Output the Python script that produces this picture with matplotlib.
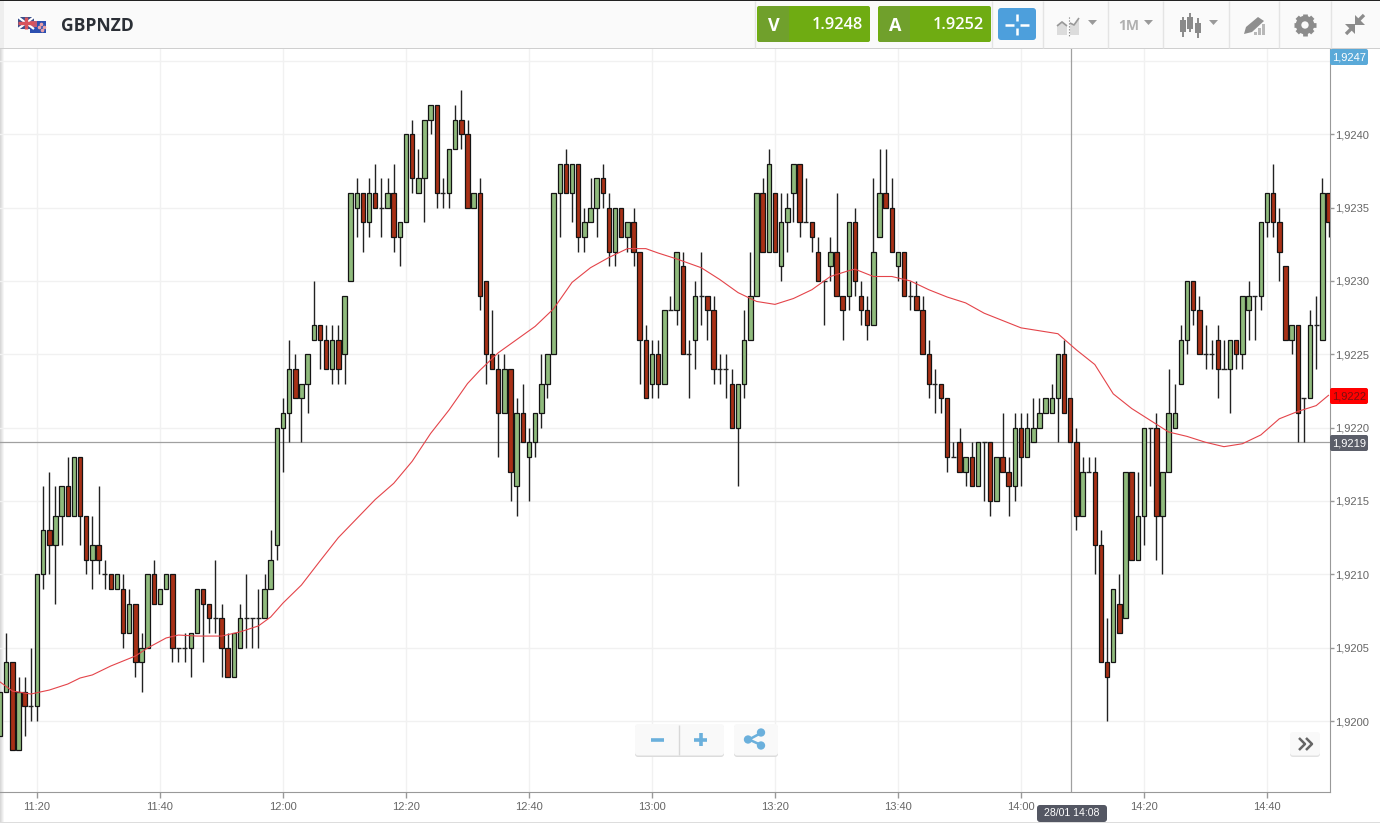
import numpy as np
import matplotlib
matplotlib.use("Agg")
import matplotlib.pyplot as plt
from matplotlib.patches import Rectangle, FancyBboxPatch, Polygon, Circle
from matplotlib.ticker import FuncFormatter

# One candle per minute, 11:14 to 14:50, prices in pips above 1.9200
open_pips = [
    -1, 2, 4, -2, 2, 1, 1, 10, 13, 12,
    14, 16, 14, 18, 14, 11, 12, 10, 10, 9,
    9, 6, 8, 4, 5, 10, 8, 9, 10, 5,
    5, 5, 6, 9, 8, 7, 7, 5, 3, 5,
    7, 7, 7, 7, 9, 12, 20, 21, 24, 22,
    23, 26, 27, 26, 24, 26, 25, 30, 35, 36,
    34, 36, 35, 35, 36, 33, 34, 40, 36, 37,
    41, 42, 36, 36, 39, 41, 40, 35, 36, 30,
    25, 24, 21, 24, 16, 21, 18, 19, 21, 23,
    25, 36, 38, 36, 38, 33, 34, 35, 37, 35,
    32, 35, 33, 34, 32, 26, 23, 25, 23, 28,
    28, 31, 25, 26, 29, 29, 28, 24, 24, 23,
    20, 23, 26, 29, 36, 32, 36, 31, 34, 36,
    38, 34, 34, 32, 30, 31, 32, 29, 29, 34,
    29, 28, 27, 33, 36, 35, 31, 32, 29, 29,
    28, 25, 23, 23, 22, 18, 19, 17, 18, 16,
    19, 19, 15, 18, 17, 16, 20, 18, 19, 20,
    21, 21, 22, 25, 22, 19, 14, 17, 17, 12,
    4, 4, 8, 7, 17, 11, 14, 20, 20, 14,
    17, 20, 23, 26, 30, 28, 25, 25, 26, 24,
    24, 26, 25, 28, 29, 29, 34, 36, 34, 31,
    26, 27, 22, 22, 27, 26, 36,
]
high_pips = [
    2, 6, 4, 3, 3, 5, 10, 16, 17, 16,
    16, 18, 18, 18, 14, 14, 16, 11, 10, 10,
    10, 9, 8, 6, 10, 11, 9, 10, 10, 5,
    6, 6, 9, 9, 8, 11, 8, 6, 6, 8,
    10, 7, 9, 10, 13, 20, 22, 26, 25, 23,
    25, 30, 27, 27, 27, 27, 29, 36, 37, 36,
    37, 38, 37, 37, 38, 34, 40, 41, 39, 41,
    42, 42, 37, 39, 42, 43, 41, 36, 37, 30,
    28, 25, 25, 24, 22, 23, 20, 21, 25, 25,
    36, 38, 39, 38, 38, 35, 37, 37, 38, 36,
    35, 35, 34, 35, 32, 27, 26, 26, 28, 29,
    32, 32, 26, 30, 32, 29, 29, 25, 25, 24,
    23, 28, 32, 36, 37, 39, 36, 36, 36, 38,
    38, 37, 34, 33, 30, 33, 36, 29, 34, 35,
    30, 29, 37, 39, 39, 37, 32, 32, 30, 30,
    29, 26, 24, 23, 22, 19, 20, 18, 19, 19,
    19, 19, 18, 21, 18, 21, 21, 21, 22, 22,
    22, 23, 25, 26, 22, 20, 18, 18, 18, 13,
    7, 9, 10, 17, 17, 17, 20, 20, 21, 17,
    24, 23, 27, 30, 30, 29, 27, 26, 27, 26,
    26, 26, 29, 30, 29, 34, 36, 38, 35, 31,
    27, 27, 22, 28, 29, 37, 36,
]
low_pips = [
    -1, 2, -2, -2, -1, 0, 0, 9, 10, 8,
    12, 14, 14, 12, 10, 9, 10, 9, 9, 9,
    5, 6, 3, 2, 5, 8, 8, 9, 4, 4,
    4, 3, 6, 4, 6, 6, 3, 3, 3, 5,
    5, 5, 5, 7, 9, 11, 17, 19, 22, 19,
    21, 26, 24, 24, 23, 23, 23, 30, 33, 32,
    33, 35, 33, 35, 32, 31, 34, 36, 36, 34,
    40, 35, 35, 35, 39, 39, 35, 35, 28, 23,
    24, 18, 21, 15, 14, 19, 15, 18, 20, 22,
    25, 33, 36, 34, 32, 32, 34, 33, 35, 31,
    31, 33, 32, 31, 23, 22, 22, 22, 23, 28,
    27, 25, 22, 24, 27, 26, 23, 23, 22, 20,
    16, 22, 26, 29, 32, 32, 32, 30, 32, 34,
    33, 34, 32, 30, 27, 30, 29, 26, 28, 29,
    27, 26, 27, 33, 35, 32, 30, 29, 28, 28,
    25, 22, 21, 21, 17, 18, 17, 16, 16, 16,
    15, 14, 15, 17, 14, 15, 16, 18, 19, 20,
    21, 21, 19, 21, 19, 13, 14, 17, 10, 4,
    0, 4, 6, 7, 11, 11, 12, 16, 11, 10,
    17, 20, 23, 25, 27, 25, 24, 24, 22, 24,
    21, 24, 24, 26, 26, 28, 33, 33, 30, 26,
    25, 19, 19, 22, 24, 26, 33,
]
close_pips = [
    2, 4, -2, 2, 1, 1, 10, 13, 12, 14,
    16, 14, 18, 14, 11, 12, 11, 10, 9, 10,
    6, 8, 4, 5, 10, 8, 9, 10, 5, 5,
    5, 6, 9, 8, 7, 7, 5, 3, 6, 7,
    7, 7, 7, 9, 11, 20, 21, 24, 22, 23,
    25, 27, 26, 24, 26, 24, 29, 36, 36, 34,
    36, 35, 35, 36, 33, 34, 40, 37, 37, 41,
    42, 36, 36, 39, 41, 40, 35, 36, 29, 25,
    24, 21, 24, 17, 21, 19, 19, 21, 23, 25,
    36, 38, 36, 38, 33, 34, 35, 37, 36, 32,
    35, 33, 34, 32, 26, 22, 25, 23, 28, 28,
    32, 25, 25, 29, 29, 28, 24, 24, 24, 20,
    23, 26, 29, 36, 32, 38, 32, 34, 35, 38,
    34, 34, 33, 30, 30, 32, 29, 28, 34, 30,
    28, 27, 32, 36, 35, 32, 32, 29, 29, 28,
    25, 23, 23, 22, 18, 18, 17, 18, 16, 19,
    19, 15, 18, 17, 16, 20, 18, 20, 20, 21,
    22, 22, 25, 21, 19, 14, 17, 17, 12, 4,
    3, 9, 6, 17, 11, 14, 20, 20, 14, 17,
    21, 21, 26, 30, 28, 25, 25, 25, 24, 24,
    26, 25, 29, 29, 29, 34, 36, 34, 32, 26,
    27, 21, 22, 27, 27, 36, 34,
]

# Moving average, read at selected minutes of the day
ma_minutes = [674, 676, 679, 682, 685, 687, 689, 692, 694, 696, 698, 701, 703, 706, 710, 713,
              716, 718, 720, 723, 726, 729, 732, 735, 738, 741, 744, 747, 750, 752, 755, 758,
              761, 764, 767, 770, 773, 776, 779, 781, 784, 788, 791, 794, 797, 800, 803, 806,
              809, 812, 813, 816, 819, 822, 825, 828, 831, 834, 837, 840, 843, 846, 849, 852,
              855, 858, 861, 864, 867, 870, 873, 876, 879, 882, 885, 888, 890]
ma_pips = [2.66, 2.04, 1.84, 2.11, 2.52, 2.93, 3.14, 3.75, 4.09, 4.43, 4.98, 5.66, 5.86, 5.79, 5.79, 6.07,
           6.48, 7.09, 8.04, 9.27, 10.9, 12.5, 13.8, 15.1, 16.2, 17.7, 19.6, 21.2, 23.0, 23.9, 25.1, 26.0,
           26.9, 28.1, 29.9, 30.9, 31.6, 32.2, 32.2, 31.9, 31.5, 30.9, 30.1, 29.2, 28.6, 28.4, 28.8, 29.4,
           30.3, 30.7, 30.8, 30.3, 30.3, 30.0, 29.4, 28.9, 28.5, 27.8, 27.3, 26.8, 26.6, 26.4, 25.3, 24.3,
           22.3, 21.3, 20.5, 19.7, 19.4, 19.0, 18.7, 18.9, 19.5, 20.6, 21.1, 21.5, 22.2]

time_ticks = [680, 700, 720, 740, 760, 780, 800, 820, 840, 860, 880]
price_ticks = [1.9200, 1.9205, 1.9210, 1.9215, 1.9220, 1.9225, 1.9230, 1.9235, 1.9240]
bid_price = "1.9248"
ask_price = "1.9252"
cross_price = 1.9219
cross_time = 848.1
last_price = 1.9222
top_price = 1.9247

UP = "#90bb7d"
DOWN = "#a83016"
FONT = "Liberation Sans"
UI_FONT = "Open Sans"


def to_price(pips):
    return 1.92 + np.array(pips, dtype=float) / 10000


fig = plt.figure(figsize=(13.8, 8.23), dpi=100, facecolor="white")

# left page shadow sits behind the chart
back = fig.add_axes([0, 0, 1, 1], zorder=-1)
back.set_xlim(0, 1380)
back.set_ylim(823, 0)
back.axis("off")
for x, col in zip(range(4), ("#d8d8d8", "#e2e2e2", "#ececec", "#f6f6f6")):
    back.add_patch(Rectangle((x, 0), 1, 823, facecolor=col, edgecolor="none"))

ax = fig.add_axes([0, 1 - 792 / 823, 1330 / 1380, (792 - 48) / 823])
ax.patch.set_alpha(0)

minutes = 674 + np.arange(len(open_pips))
o, h, l, c = map(to_price, (open_pips, high_pips, low_pips, close_pips))
colors = [UP if b > a else DOWN for a, b in zip(o, c)]
solid = c != o

ax.vlines(minutes, l, h, color="#222222", lw=1.0, zorder=3)
ax.bar(minutes[solid], (c - o)[solid], bottom=o[solid], width=0.72,
       color=np.array(colors)[solid], edgecolor="#141414", lw=0.9, zorder=4)
ax.hlines(o[~solid], minutes[~solid] - 0.42, minutes[~solid] + 0.42, color="#222222", lw=1.0, zorder=4)
ax.plot(ma_minutes, to_price(ma_pips), color="#e4444a", lw=0.8, zorder=5)

ax.axvline(cross_time, color="#a0a0a0", lw=0.9, zorder=2)
ax.axhline(cross_price, color="#a0a0a0", lw=0.9, zorder=2)

ax.set_xlim(680 - 37 / 6.15, 680 + 1293 / 6.15)
ax.set_ylim(1.92 + (721 - 792) / 146700, 1.92 + (721 - 48) / 146700)

ax.set_xticks(time_ticks)
ax.xaxis.set_major_formatter(FuncFormatter(lambda m, _: f"{int(m) // 60}:{int(m) % 60:02d}"))
ax.yaxis.tick_right()
ax.set_yticks(price_ticks)
ax.yaxis.set_major_formatter(FuncFormatter(lambda p, _: f"{p:.4f}".replace(".", ",")))
ax.tick_params(axis="both", width=1, color="#999999", labelcolor="#666666", labelsize=8)
ax.tick_params(axis="x", length=4, pad=3)
ax.tick_params(axis="y", length=3, pad=1)
for lab in ax.get_xticklabels() + ax.get_yticklabels():
    lab.set_fontfamily(FONT)
ax.grid(True, color="#f1f1f1", lw=1.0, zorder=0)
ax.axhline(1.9245, color="#f1f1f1", lw=1.0, zorder=0)
ax.set_axisbelow(True)
for side in ("top", "left"):
    ax.spines[side].set_visible(False)
for side in ("right", "bottom"):
    ax.spines[side].set_color("#999999")

# Everything round the chart is drawn in pixel coordinates
ui = fig.add_axes([0, 0, 1, 1], zorder=10)
ui.set_xlim(0, 1380)
ui.set_ylim(823, 0)
ui.axis("off")


def rect(x0, y0, x1, y1, color, **kw):
    ui.add_patch(Rectangle((x0, y0), x1 - x0, y1 - y0, facecolor=color, edgecolor="none", **kw))


def box(x0, y0, x1, y1, face, edge="none", r=2.5, **kw):
    ui.add_patch(FancyBboxPatch((x0 + r, y0 + r), x1 - x0 - 2 * r, y1 - y0 - 2 * r,
                                boxstyle=f"round,pad={r},rounding_size={r}",
                                facecolor=face, edgecolor=edge, lw=1, **kw))


def seg(xs, ys, color, lw=1.0, **kw):
    ui.plot(xs, ys, color=color, lw=lw, solid_capstyle="butt", **kw)


# header
rect(0, 0, 1380, 48, "#fafafa")
rect(0, 0, 4, 48, "#eeeeee")
rect(0, 0, 1380, 1.3, "#222222")
rect(0, 47.6, 1380, 49, "#cfcfcf")
for x in (755, 992, 1043, 1108, 1163, 1229, 1279, 1331):
    seg([x, x], [1, 48], "#e4e4e4")

rect(0, 821.5, 1380, 823, "#dddddd")

# flags
rect(18, 17, 34, 29, "#3b4f8c")
seg([18, 34], [17, 29], "#ffffff", 1.6)
seg([18, 34], [29, 17], "#ffffff", 1.6)
seg([26, 26], [17, 29], "#d8545c", 2.4)
seg([18, 34], [23, 23], "#d8545c", 2.4)
rect(30, 21, 46, 32.5, "#2c4fb0")
rect(30, 21, 37, 26.5, "#c05a72")
ui.scatter([41, 43.5, 39, 41.5], [24, 26.5, 27, 30], s=2.5, color="#e8a0a8", zorder=5)
ui.text(60.5, 25.5, "GBPNZD", family=UI_FONT, weight="bold", fontsize=12.6, color="#2b2f36", va="center", ha="left")

# bid / ask
for x0, letter, price in ((757, "V", bid_price), (878, "A", ask_price)):
    box(x0, 6, x0 + 113, 42, "#6fac12", r=2)
    rect(x0 + 2, 6, x0 + 32, 42, "#70a02c")
    ui.text(x0 + 17, 25.5, letter, family=UI_FONT, weight="bold", fontsize=13, color="white", va="center", ha="center")
    ui.text(x0 + 106, 24.5, price, family=UI_FONT, weight="semibold", fontsize=11.8, color="white", va="center", ha="right")

# crosshair toggle
box(998, 8, 1036, 40, "#4d9fdc", r=3)
seg([1005, 1014], [24.5, 24.5], "white", 1.8)
seg([1020, 1029], [24.5, 24.5], "white", 1.8)
seg([1017, 1017], [14, 21], "white", 1.8)
seg([1017, 1017], [28, 35], "white", 1.8)

# toolbar icons
ui.add_patch(Polygon([(1057, 35), (1057, 25), (1062, 21), (1067, 25), (1067, 35)], facecolor="#dcdcdc", edgecolor="none"))
ui.add_patch(Polygon([(1070, 35), (1070, 22), (1074, 25), (1079, 19), (1079, 35)], facecolor="#dcdcdc", edgecolor="none"))
seg([1057, 1062, 1067], [26, 22, 26], "#999999", 1.2)
seg([1070, 1074, 1079], [23, 25, 18], "#999999", 1.2)
seg([1068.5, 1068.5], [17, 36], "#777777", 0.8, ls=":")
for x in (1088, 1144, 1209):
    ui.add_patch(Polygon([(x, 20), (x + 9, 20), (x + 4.5, 25)], facecolor="#9a9a9a", edgecolor="none"))
ui.text(1129, 25.5, "1M", family=UI_FONT, weight="bold", fontsize=10, color="#b0b0b0", va="center", ha="center")
for x, top, bottom, y0, y1 in ((1183, 17, 37, 20, 32), (1190, 13, 32, 17, 29), (1197.5, 18, 38, 23, 33)):
    seg([x, x], [top, bottom], "#8a8a8a", 1.4)
    rect(x - 3, y0, x + 3, y1, "#8a8a8a")
ui.add_patch(Polygon([(1244, 34), (1246, 27), (1258, 17), (1264, 21), (1252, 32)], facecolor="#8f8f8f", edgecolor="none"))
for x0, y0 in ((1254, 32), (1258, 28), (1262, 24)):
    rect(x0, y0, x0 + 2.6, 35, "#b8b8b8")
for a in np.arange(0, 360, 45):
    ca, sa = np.cos(np.radians(a)), np.sin(np.radians(a))
    seg([1305 + 6 * ca, 1305 + 11 * ca], [25 + 6 * sa, 25 + 11 * sa], "#8c8c8c", 3.4)
ui.add_patch(Circle((1305, 25), 6.5, facecolor="none", edgecolor="#8c8c8c", lw=4))
seg([1346, 1352], [34, 28], "#8c8c8c", 2.4)
ui.add_patch(Polygon([(1345, 24), (1355, 24), (1355, 34)], facecolor="#8c8c8c", edgecolor="none"))
seg([1364, 1358], [15, 21], "#8c8c8c", 2.4)
ui.add_patch(Polygon([(1355, 15), (1355, 25), (1365, 25)], facecolor="#8c8c8c", edgecolor="none"))

# price labels on the axis
box(1330, 49, 1368, 65, "#5aa9d8", r=2)
ui.text(1349, 57.5, f"{top_price:.4f}".replace(".", ","), family=FONT, fontsize=8, color="white", va="center", ha="center")
box(1330, 388, 1368, 404, "#ff0000", r=2)
ui.text(1349, 396, f"{last_price:.4f}".replace(".", ","), family=FONT, fontsize=8, color="#7a1010", va="center", ha="center")
box(1330, 435, 1368, 451, "#5b5e69", r=2)
ui.text(1349, 443.5, f"{cross_price:.4f}".replace(".", ","), family=FONT, fontsize=8, color="white", va="center", ha="center")
box(1037, 805, 1107, 822, "#545763", r=3)
ui.text(1072, 813.5, "28/01 14:08", family=FONT, fontsize=7.6, color="white", va="center", ha="center")

# zoom, share and scroll buttons
BLUE = "#6bb0dc"
box(635, 725, 724, 757, "#dcdcdc", r=3)
box(635, 724, 724, 755.5, "#f9f9f9", r=3)
seg([679, 679], [725, 755], "#d8d8d8")
seg([651, 664], [739.5, 739.5], BLUE, 2.6)
seg([694, 707], [739.5, 739.5], BLUE, 2.6)
seg([700.5, 700.5], [733, 746], BLUE, 2.6)
box(734, 725, 778, 757, "#dcdcdc", r=3)
box(734, 724, 778, 755.5, "#f9f9f9", r=3)
seg([749, 761], [739.5, 733], BLUE, 1.8)
seg([749, 761], [739.5, 745], BLUE, 1.8)
ui.scatter([748, 761, 761], [739.5, 732.5, 745.5], s=36, color=BLUE, edgecolors="none", zorder=5)
box(1290, 733, 1320, 757, "#e2e2e2", r=3)
box(1290, 732, 1320, 755.5, "#f9f9f9", r=3)
seg([1299, 1305, 1299], [738, 744, 750], "#666666", 1.8)
seg([1306, 1312, 1306], [738, 744, 750], "#666666", 1.8)

fig.savefig("out.png", dpi=100)
